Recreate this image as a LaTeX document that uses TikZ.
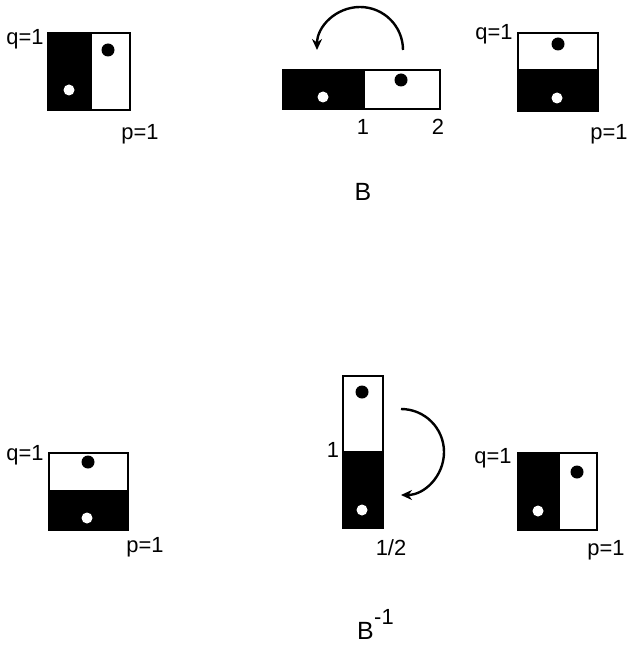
\documentclass[tikz,border=0pt]{standalone}
\usepackage{fontspec}
\setmainfont{Liberation Sans}
\usetikzlibrary{arrows.meta}
\begin{document}
\begin{tikzpicture}[x=1bp,y=-1bp,
  frame/.style={draw=black,line width=1.8bp},
  blk/.style={fill=black},
  bdot/.style={fill=black},
  wdot/.style={fill=white},
  lbl/.style={font=\fontsize{22}{24}\selectfont,inner sep=0pt,anchor=base},
  ttl/.style={font=\fontsize{25}{27}\selectfont,inner sep=0pt,anchor=base},
  turn/.style={line width=2.4bp,-{Stealth[length=11bp,width=10bp]}}]
\useasboundingbox (0,0) rectangle (630,645);
% ---------- top row (B) ----------
% square 1
\fill[blk] (48,33) rectangle (92,110);
\draw[frame] (48,33) rectangle (130,110);
\fill[bdot] (108,50) circle (6.5);
\fill[wdot] (69,90) circle (5.5);
\node[lbl] (q1) at (25,45) {q=1};
\node[lbl] (p1) at (140,140) {p=1};
% bar
\fill[blk] (283,70) rectangle (365,109);
\draw[frame] (283,70) rectangle (440,109);
\fill[bdot] (401,80) circle (6.5);
\fill[wdot] (323,97) circle (5.5);
\node[lbl] (one1) at (363,135) {1};
\node[lbl] (two1) at (438,135) {2};
\draw[turn] (403,50) arc[start angle=0,end angle=-180,radius=43];
% square 3
\fill[blk] (518,69) rectangle (598,111);
\draw[frame] (518,33) rectangle (598,111);
\fill[bdot] (558,44) circle (6.5);
\fill[wdot] (557,98) circle (5.5);
\node[lbl] (q3) at (494,40) {q=1};
\node[lbl] (p3) at (609,140) {p=1};
\node[ttl] (B) at (363,200) {B};
% ---------- bottom row (B^-1) ----------
% square 4
\fill[blk] (49,490) rectangle (128,530);
\draw[frame] (49,453) rectangle (128,530);
\fill[bdot] (88,462) circle (6.5);
\fill[wdot] (87,518) circle (5.5);
\node[lbl] (q4) at (25,460) {q=1};
\node[lbl] (p4) at (145,552) {p=1};
% tall bar
\fill[blk] (343,451) rectangle (383,528);
\draw[frame] (343,376) rectangle (383,528);
\fill[bdot] (362,392) circle (6.5);
\fill[wdot] (362,510) circle (5.5);
\node[lbl] (one2) at (333,457) {1};
\node[lbl] (half) at (391,555) {1/2};
\draw[turn] (401,409) arc[start angle=-90,end angle=90,radius=43];
% square 6
\fill[blk] (518,453) rectangle (560,530);
\draw[frame] (518,453) rectangle (597,530);
\fill[bdot] (577,472) circle (6.5);
\fill[wdot] (538,511) circle (5.5);
\node[lbl] (q6) at (493,463) {q=1};
\node[lbl] (p6) at (606,555) {p=1};
\node[ttl,anchor=base west] (Binv) at (357,639) {B};
\node[lbl,anchor=base west] (Bexp) at (374,624) {-1};
\end{tikzpicture}
\end{document}
